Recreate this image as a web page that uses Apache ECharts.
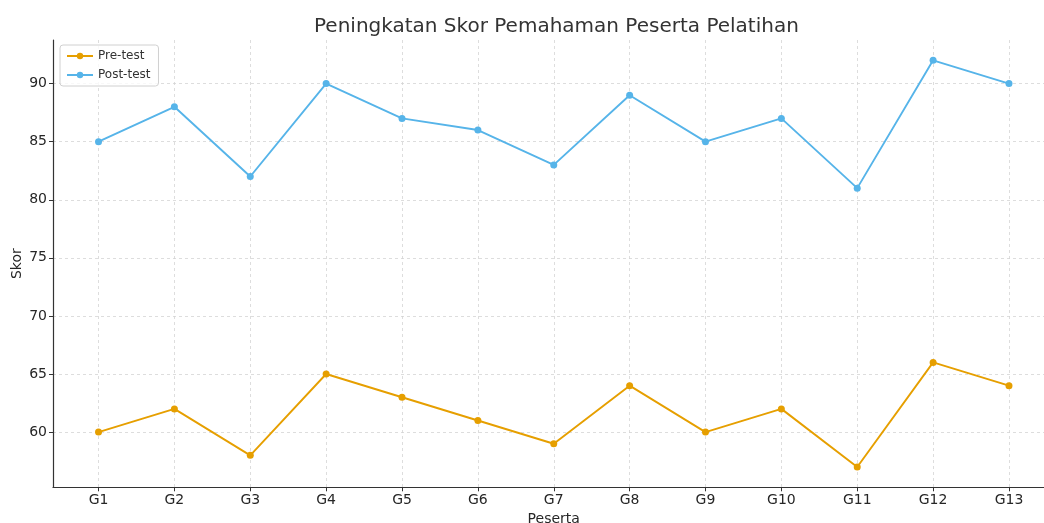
<!DOCTYPE html>
<html><head><meta charset="utf-8">
<script src="https://cdn.jsdelivr.net/npm/echarts@6/dist/echarts.min.js"></script>
<style>html,body{margin:0;padding:0;background:#fff}#c{width:1044px;height:523px}</style>
</head><body><div id="c"></div>
<script>
const categories = ["G1","G2","G3","G4","G5","G6","G7","G8","G9","G10","G11","G12","G13"];
const preTest = [60,62,58,65,63,61,59,64,60,62,57,66,64];
const postTest = [85,88,82,90,87,86,83,89,85,87,81,92,90];
const yTicks = [60,65,70,75,80,85,90];

const font = "DejaVu Sans";
const chart = echarts.init(document.getElementById('c'));
const toPairs = arr => arr.map((v,i)=>[i,v]);
chart.setOption({
  animation:false,
  textStyle:{fontFamily:font},
  title:{text:"Peningkatan Skor Pemahaman Peserta Pelatihan",left:309,top:12,
    textStyle:{fontFamily:font,fontSize:20,fontWeight:'normal',color:'#333'}},
  legend:{orient:'vertical',left:60,top:45,borderColor:'#d0d0d0',borderWidth:1,borderRadius:3,
    padding:[5,8,5,6],itemGap:7,itemWidth:26,itemHeight:8,
    backgroundColor:'rgba(255,255,255,0.8)',
    textStyle:{fontFamily:font,fontSize:12,color:'#333'},
    data:['Pre-test','Post-test']},
  grid:{left:53,top:40,right:-10.5,bottom:35.7,containLabel:false,outerBoundsMode:'none'},
  xAxis:{type:'value',min:-0.6,max:12.6,
    name:'Peserta',nameLocation:'middle',nameGap:23,
    nameTextStyle:{fontFamily:font,fontSize:14,color:'#262626'},
    axisLine:{show:true,onZero:false,lineStyle:{color:'#333',width:1.2}},
    axisTick:{show:true,length:4,customValues:categories.map((c,i)=>i),lineStyle:{color:'#333'}},
    axisLabel:{customValues:categories.map((c,i)=>i),formatter:v=>categories[Math.round(v)],
      fontFamily:font,fontSize:14,color:'#262626',margin:6},
    splitLine:{show:true,lineStyle:{color:'#d5d5d5',type:[3,3],width:0.8}}},
  yAxis:{type:'value',min:55.25,max:93.75,
    name:'Skor',nameLocation:'middle',nameGap:29,nameRotate:90,nameMoveOverlap:false,
    nameTextStyle:{fontFamily:font,fontSize:14,color:'#262626'},
    axisLine:{show:true,onZero:false,lineStyle:{color:'#333',width:1.2}},
    axisTick:{show:true,length:4,customValues:yTicks,lineStyle:{color:'#333'}},
    axisLabel:{customValues:yTicks,fontFamily:font,fontSize:14,color:'#262626',margin:6},
    splitLine:{show:true,lineStyle:{color:'#d5d5d5',type:[3,3],width:0.8}}},
  series:[
    {name:'Pre-test',type:'line',data:toPairs(preTest),color:'#E69F00',
      symbol:'circle',symbolSize:7,lineStyle:{width:1.9},itemStyle:{color:'#E69F00'}},
    {name:'Post-test',type:'line',data:toPairs(postTest),color:'#56B4E9',
      symbol:'circle',symbolSize:7,lineStyle:{width:1.9},itemStyle:{color:'#56B4E9'}}
  ]
});
</script></body></html>
